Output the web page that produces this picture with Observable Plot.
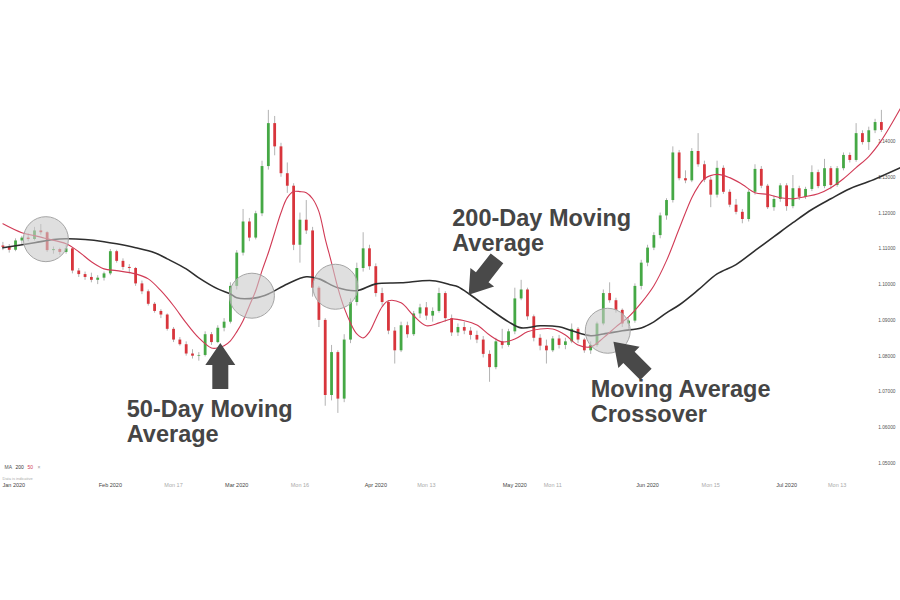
<!DOCTYPE html>
<html>
<head>
<meta charset="utf-8">
<script src="https://cdn.jsdelivr.net/npm/d3@7"></script>
<script src="https://cdn.jsdelivr.net/npm/@observablehq/plot@0.6"></script>
<style>
  html, body { margin: 0; padding: 0; background: #fff; }
  #chart { width: 900px; height: 600px; }
</style>
</head>
<body>
<div id="chart"></div>
<script>
// ---- Daily candles (trading days from 9 Jan 2020) ----
const opens = [
  1.1108,1.1104,1.1096,1.1122,1.1130,1.1126,1.1150,1.1145,1.1095,1.1098,
  1.1090,1.1100,1.1038,1.1028,1.1020,1.1012,1.1018,1.1030,1.1092,1.1065,
  1.1048,1.1045,1.1002,1.0980,1.0945,1.0925,1.0915,1.0875,1.0845,1.0832,
  1.0806,1.0800,1.0802,1.0860,1.0838,1.0878,1.0895,1.0995,1.1088,1.1175,
  1.1130,1.1198,1.1330,1.1450,1.1385,1.1310,1.1275,1.1110,1.1180,1.1150,
  1.0990,1.0900,1.0690,1.0810,1.0680,1.0845,1.0950,1.1045,1.1100,1.1050,
  1.0975,1.0950,1.0870,1.0815,1.0885,1.0860,1.0918,1.0935,1.0912,1.0925,
  1.0975,1.0905,1.0865,1.0880,1.0870,1.0858,1.0845,1.0805,1.0768,1.0840,
  1.0830,1.0868,1.0960,1.0985,1.0910,1.0850,1.0828,1.0815,1.0848,1.0830,
  1.0840,1.0875,1.0845,1.0815,1.0830,1.0890,1.0975,1.0955,1.0928,1.0890,
  1.0898,1.0995,1.1060,1.1102,1.1137,1.1192,1.1235,1.1368,1.1296,1.1290,
  1.1372,1.1335,1.1292,1.1250,1.1325,1.1258,1.1222,1.1202,1.1182,1.1258,
  1.1322,1.1275,1.1215,1.1238,1.1276,1.1218,1.1268,1.1244,1.1266,1.1313,
  1.1274,1.1324,1.1277,1.1324,1.1361,1.1347,1.1422,1.1397,1.1430,1.1453
];
const highs = [
  1.1118,1.1112,1.1128,1.1135,1.1142,1.1160,1.1168,1.1148,1.1105,1.1102,
  1.1110,1.1102,1.1045,1.1035,1.1032,1.1025,1.1035,1.1098,1.1096,1.1072,
  1.1056,1.1048,1.1010,1.0985,1.0950,1.0930,1.0918,1.0880,1.0852,1.0840,
  1.0818,1.0810,1.0868,1.0866,1.0885,1.0905,1.1005,1.1095,1.1210,1.1185,
  1.1205,1.1345,1.1487,1.1470,1.1395,1.1340,1.1282,1.1200,1.1235,1.1160,
  1.0995,1.0905,1.0830,1.0815,1.0860,1.0960,1.1060,1.1145,1.1110,1.1058,
  1.0990,1.0955,1.0880,1.0895,1.0895,1.0925,1.0945,1.0950,1.0935,1.0990,
  1.0980,1.0915,1.0890,1.0895,1.0880,1.0870,1.0855,1.0815,1.0850,1.0875,
  1.0875,1.0990,1.1012,1.0990,1.0915,1.0860,1.0845,1.0855,1.0858,1.0850,
  1.0890,1.0880,1.0850,1.0840,1.0895,1.0985,1.1005,1.0962,1.0932,1.0905,
  1.1002,1.1068,1.1110,1.1145,1.1200,1.1240,1.1385,1.1375,1.1318,1.1380,
  1.1422,1.1345,1.1300,1.1345,1.1332,1.1265,1.1238,1.1210,1.1265,1.1335,
  1.1330,1.1280,1.1248,1.1282,1.1282,1.1305,1.1275,1.1272,1.1332,1.1320,
  1.1350,1.1330,1.1330,1.1368,1.1368,1.1450,1.1430,1.1440,1.1462,1.1487
];
const lows = [
  1.1095,1.1088,1.1092,1.1112,1.1120,1.1122,1.1138,1.1090,1.1085,1.1082,
  1.1085,1.1030,1.1020,1.1012,1.1005,1.1000,1.1010,1.1025,1.1060,1.1040,
  1.1030,1.0995,1.0972,1.0940,1.0920,1.0905,1.0870,1.0838,1.0828,1.0800,
  1.0792,1.0786,1.0798,1.0830,1.0835,1.0868,1.0890,1.0985,1.1080,1.1120,
  1.1125,1.1190,1.1320,1.1360,1.1300,1.1255,1.1095,1.1060,1.1140,1.0965,
  1.0880,1.0660,1.0675,1.0640,1.0670,1.0835,1.0940,1.1035,1.1040,1.0965,
  1.0940,1.0860,1.0778,1.0810,1.0850,1.0855,1.0905,1.0900,1.0895,1.0920,
  1.0895,1.0855,1.0855,1.0860,1.0845,1.0835,1.0795,1.0727,1.0762,1.0820,
  1.0825,1.0860,1.0955,1.0900,1.0840,1.0815,1.0778,1.0810,1.0820,1.0818,
  1.0835,1.0835,1.0808,1.0805,1.0825,1.0885,1.0948,1.0920,1.0880,1.0875,
  1.0892,1.0985,1.1050,1.1095,1.1128,1.1180,1.1228,1.1290,1.1282,1.1285,
  1.1328,1.1285,1.1215,1.1242,1.1252,1.1215,1.1195,1.1170,1.1175,1.1250,
  1.1268,1.1210,1.1205,1.1230,1.1205,1.1212,1.1235,1.1238,1.1260,1.1268,
  1.1268,1.1265,1.1272,1.1318,1.1340,1.1342,1.1390,1.1375,1.1422,1.1425
];
const closes = [
  1.1104,1.1096,1.1122,1.1130,1.1126,1.1150,1.1145,1.1095,1.1098,1.1090,
  1.1100,1.1038,1.1028,1.1020,1.1012,1.1018,1.1030,1.1092,1.1065,1.1048,
  1.1045,1.1002,1.0980,1.0945,1.0925,1.0915,1.0875,1.0845,1.0832,1.0806,
  1.0800,1.0802,1.0860,1.0838,1.0878,1.0895,1.0995,1.1088,1.1175,1.1130,
  1.1198,1.1330,1.1450,1.1385,1.1310,1.1275,1.1110,1.1180,1.1150,1.0990,
  1.0900,1.0690,1.0810,1.0680,1.0845,1.0950,1.1045,1.1100,1.1050,1.0975,
  1.0950,1.0870,1.0815,1.0885,1.0860,1.0918,1.0935,1.0912,1.0925,1.0975,
  1.0905,1.0865,1.0880,1.0870,1.0858,1.0845,1.0805,1.0768,1.0840,1.0830,
  1.0868,1.0960,1.0985,1.0910,1.0850,1.0828,1.0815,1.0848,1.0830,1.0840,
  1.0875,1.0845,1.0815,1.0830,1.0890,1.0975,1.0955,1.0928,1.0890,1.0898,
  1.0995,1.1060,1.1102,1.1137,1.1192,1.1235,1.1368,1.1296,1.1290,1.1372,
  1.1335,1.1292,1.1250,1.1325,1.1258,1.1222,1.1202,1.1182,1.1258,1.1322,
  1.1275,1.1215,1.1238,1.1276,1.1218,1.1268,1.1244,1.1266,1.1313,1.1274,
  1.1324,1.1277,1.1324,1.1361,1.1347,1.1422,1.1397,1.1430,1.1453,1.1431
];

// ---- Moving averages (trading-day index, value) ----
const ma50Idx = [0,3,5,7,10,12,14,16,18,21,23,25,27,29,31,33,34,35,36,37,38,39,40,41,42,43,44,45,46,47,48,49,50,51,52,53,54,55,56,57,58,59,60,61,63,65,67,69,71,73,75,77,79,81,83,85,87,89,91,93,95,97,99,101,103,105,107,109,110,111,113,115,117,119,121,123,125,127,129,131,133,135,137,139,142];
const ma50Val = [1.1170,1.1145,1.1137,1.1128,1.1114,1.1092,1.1064,1.1044,1.1039,1.1030,1.1016,1.0983,1.0941,1.0893,1.0851,1.0823,1.0823,1.0829,1.0843,1.0868,1.0899,1.0941,1.0983,1.1039,1.1089,1.1145,1.1201,1.1243,1.1260,1.1260,1.1257,1.1240,1.1204,1.1128,1.1061,1.0991,1.0935,1.0893,1.0862,1.0851,1.0868,1.0904,1.0938,1.0955,1.0949,1.0913,1.0885,1.0893,1.0904,1.0899,1.0887,1.0859,1.0840,1.0848,1.0868,1.0876,1.0876,1.0859,1.0831,1.0826,1.0851,1.0882,1.0910,1.0949,1.0997,1.1067,1.1156,1.1243,1.1274,1.1296,1.1308,1.1299,1.1280,1.1257,1.1252,1.1243,1.1240,1.1246,1.1254,1.1271,1.1296,1.1327,1.1358,1.1403,1.1492];
const ma200Idx = [0,5,8,10,13,16,18,21,24,26,29,31,34,36,37,40,42,45,48,50,53,56,59,63,68,71,72,74,77,80,82,85,88,90,93,95,98,101,103,105,107,110,113,116,119,122,125,128,131,134,137,142];
const ma200Val = [1.1103,1.1117,1.1126,1.1128,1.1126,1.1120,1.1114,1.1103,1.1089,1.1072,1.1044,1.1019,1.0988,1.0974,1.0963,1.0963,1.0974,1.1002,1.1022,1.1016,1.0991,1.0983,1.1002,1.1005,1.1011,1.0999,1.0994,1.0971,1.0932,1.0896,1.0879,1.0885,1.0882,1.0871,1.0857,1.0862,1.0871,1.0879,1.0896,1.0921,1.0943,1.0985,1.1030,1.1056,1.1095,1.1134,1.1173,1.1210,1.1240,1.1268,1.1288,1.1327];

// ---- Axis labels ----
const yTicks = [1.05,1.06,1.07,1.08,1.09,1.10,1.11,1.12,1.13,1.14];
const xTickIdx    = [17, 27, 37, 47, 59, 67, 81, 87, 102, 112, 124, 132];
const xTickLabels = ["Feb 2020","Mon 17","Mar 2020","Mon 16","Apr 2020","Mon 13","May 2020","Mon 11","Jun 2020","Mon 15","Jul 2020","Mon 13"];
const firstLabel = "Jan 2020";

// ---- Annotations ----
const circleIdx = [6.8, 39.4, 52.6, 95.7];
const circleVal = [1.1127, 1.0969, 1.0994, 1.0871];
const arrowIdx = [34.4, 73.7, 96.6];
const arrowVal = [1.0837, 1.0972, 1.0840];
const arrowAngle = [0, 218, 315];
const noteIdx = [71.1, 19.6, 93.0];
const noteVal = [1.1212, 1.0680, 1.0734];
const noteText = ["200-Day Moving\nAverage", "50-Day Moving\nAverage", "Moving Average\nCrossover"];
const legendItems = ["MA", "200", "50", "×"];

// ---- Build tables ----
const candles = closes.map((c, i) => ({i, open: opens[i], high: highs[i], low: lows[i], close: c}));
const up = candles.filter(d => d.close >= d.open);
const down = candles.filter(d => d.close < d.open);
const ma50 = ma50Idx.map((i, k) => ({i, v: ma50Val[k]}));
const ma200 = ma200Idx.map((i, k) => ({i, v: ma200Val[k]}));
const xticks = xTickIdx.map((i, k) => ({i, label: xTickLabels[k], major: !xTickLabels[k].startsWith("Mon")}));
const circles = circleIdx.map((i, k) => ({i, v: circleVal[k]}));
const arrows = arrowIdx.map((i, k) => ({i, v: arrowVal[k], a: arrowAngle[k]}));
const notes = noteIdx.map((i, k) => ({i, v: noteVal[k], t: noteText[k]}));

const blockArrow = {
  draw(context, l) {
    const w1 = 8, w2 = 15, h = 22;
    context.moveTo(-w1, 0);
    context.lineTo(-w1, -(l - h));
    context.lineTo(-w2, -(l - h));
    context.lineTo(0, -l);
    context.lineTo(w2, -(l - h));
    context.lineTo(w1, -(l - h));
    context.lineTo(w1, 0);
    context.closePath();
  }
};

const font = "'Liberation Sans', Arial, sans-serif";

const chart = Plot.plot({
  width: 900,
  height: 600,
  marginTop: 0,
  marginLeft: 0,
  marginRight: 5,
  marginBottom: 114,
  x: {domain: [0, 139], range: [2.4, 880.9], axis: null},
  y: {domain: [1.05, 1.14], range: [463, 141], axis: null},
  style: {background: "#fff", fontFamily: font, overflow: "visible"},
  marks: [
    // right-hand price labels
    Plot.text(yTicks, {y: d => d, text: d => d.toFixed(5), frameAnchor: "right", textAnchor: "end", fontSize: 4.8, fill: "#555"}),
    // candles
    Plot.ruleX(candles, {x: "i", y1: "low", y2: "high", stroke: "#b3b3b3", strokeWidth: 1}),
    Plot.ruleX(up, {x: "i", y1: "open", y2: "close", stroke: "#45a845", strokeWidth: 2.8}),
    Plot.ruleX(down, {x: "i", y1: "open", y2: "close", stroke: "#d8353c", strokeWidth: 2.8}),
    // moving averages
    Plot.line(ma200, {x: "i", y: "v", stroke: "#2e2e2e", strokeWidth: 1.6, curve: "catmull-rom"}),
    Plot.line(ma50, {x: "i", y: "v", stroke: "#d13a55", strokeWidth: 1.1, curve: "catmull-rom"}),
    // highlight circles
    Plot.dot(circles, {x: "i", y: "v", r: 22.5, fill: "#c9c9c9", fillOpacity: 0.6, stroke: "#a5a5a5", strokeWidth: 1}),
    // arrows
    Plot.vector(arrows, {x: "i", y: "v", rotate: "a", length: 46, anchor: "end", shape: blockArrow, fill: "#494949", stroke: "none"}),
    // annotation text
    Plot.text(notes, {x: "i", y: "v", text: "t", textAnchor: "start", lineAnchor: "top", lineHeight: 1.06, fontSize: 23.5, fontWeight: "bold", fill: "#454545", fontFamily: font}),
    // bottom date labels
    Plot.text([firstLabel], {frameAnchor: "bottom-left", text: d => d, textAnchor: "start", dx: 2, fontSize: 5.5, fill: "#444"}),
    Plot.text(xticks.filter(d => d.major), {x: "i", text: "label", frameAnchor: "bottom", fontSize: 5.5, fill: "#444"}),
    Plot.text(xticks.filter(d => !d.major), {x: "i", text: "label", frameAnchor: "bottom", fontSize: 5.5, fill: "#aaa"}),
    // tiny legend
    Plot.text([legendItems[0]], {frameAnchor: "bottom-left", text: d => d, textAnchor: "start", dx: 4, dy: -18, fontSize: 5, fill: "#555"}),
    Plot.text([legendItems[1]], {frameAnchor: "bottom-left", text: d => d, textAnchor: "start", dx: 15, dy: -18, fontSize: 5, fill: "#333"}),
    Plot.text([legendItems[2]], {frameAnchor: "bottom-left", text: d => d, textAnchor: "start", dx: 27, dy: -18, fontSize: 5, fill: "#d13a55"}),
    Plot.text([legendItems[3]], {frameAnchor: "bottom-left", text: d => d, textAnchor: "start", dx: 37, dy: -18, fontSize: 5, fill: "#999"}),
    Plot.text(["Data is indicative"], {frameAnchor: "bottom-left", text: d => d, textAnchor: "start", dx: 2, dy: -7, fontSize: 4, fill: "#aaa"})
  ]
});

document.getElementById("chart").appendChild(chart);
</script>
</body>
</html>
